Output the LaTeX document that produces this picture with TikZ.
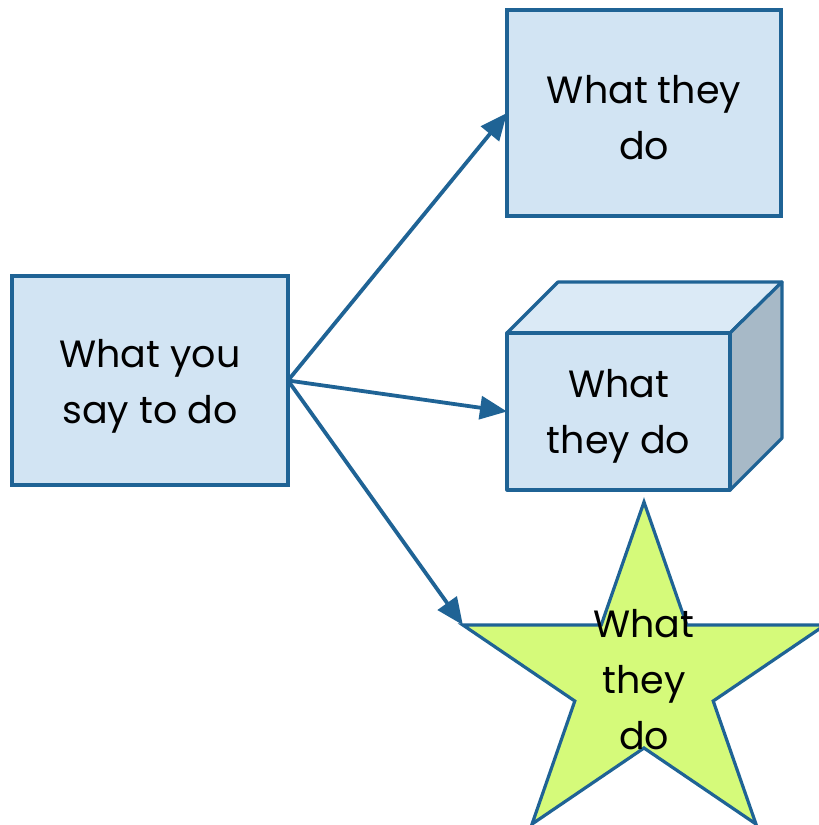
\documentclass[tikz,border=0pt]{standalone}
\usepackage{fontspec}
\setmainfont{Poppins}
\usetikzlibrary{arrows.meta}
\definecolor{edgeblue}{RGB}{31,99,149}
\definecolor{boxfill}{RGB}{210,228,243}
\definecolor{topface}{RGB}{219,234,246}
\definecolor{sideface}{RGB}{167,185,199}
\definecolor{starfill}{RGB}{213,250,122}
\tikzset{
  x=1pt, y=-1pt,
  label text/.style={align=center, font=\fontsize{38}{56}\selectfont, text=black, inner sep=0pt},
  flatbox/.style={draw=edgeblue, fill=boxfill, line width=3.2pt},
  facepath/.style={draw=edgeblue, line width=3.2pt, line join=round},
  flow/.style={draw=edgeblue, line width=3.8pt, -{Triangle[length=27pt,width=23pt]}}
}
\begin{document}
\begin{tikzpicture}
\useasboundingbox (0,0) rectangle (819,825);
\clip (0,0) rectangle (819,825);

% source box
\draw[flatbox] (12,276) rectangle (288,485);
\coordinate (src) at (288,380.5);
\node[label text] (srctext) at (150,386) {What you\\say to do};

% plain box, top right
\draw[flatbox] (507,10) rectangle (781,216);
\coordinate (plainW) at (507,113);
\node[label text] (plaintext) at (644,118) {What they\\do};

% cube: top face, side face, front face
\draw[facepath, fill=topface] (507,333) -- (558,282) -- (782,282) -- (730,333) -- cycle;
\draw[facepath, fill=sideface] (730,333) -- (782,282) -- (782,438) -- (730,490) -- cycle;
\draw[facepath, fill=boxfill] (507,333) rectangle (730,490);
\coordinate (cubeW) at (507,411.5);
\node[label text] (cubetext) at (618.5,416) {What\\they do};

% five-pointed star, slightly wider than tall (negative radii point up)
\begin{scope}[shift={(644,680)}, xscale=1.07]
  \draw[facepath, fill=starfill, line join=miter]
    (90:-178) -- (126:-68) -- (162:-178) -- (198:-68) -- (234:-178) --
    (270:-68) -- (306:-178) -- (342:-68) -- (18:-178) -- (54:-68) -- cycle;
  \coordinate (starL) at (18:-178);
\end{scope}
\node[label text] (startext) at (644,680) {What\\they\\do};

% connectors
\draw[flow] (src) -- (plainW);
\draw[flow] (src) -- (cubeW);
\draw[flow] (src) -- (starL);
\end{tikzpicture}
\end{document}
